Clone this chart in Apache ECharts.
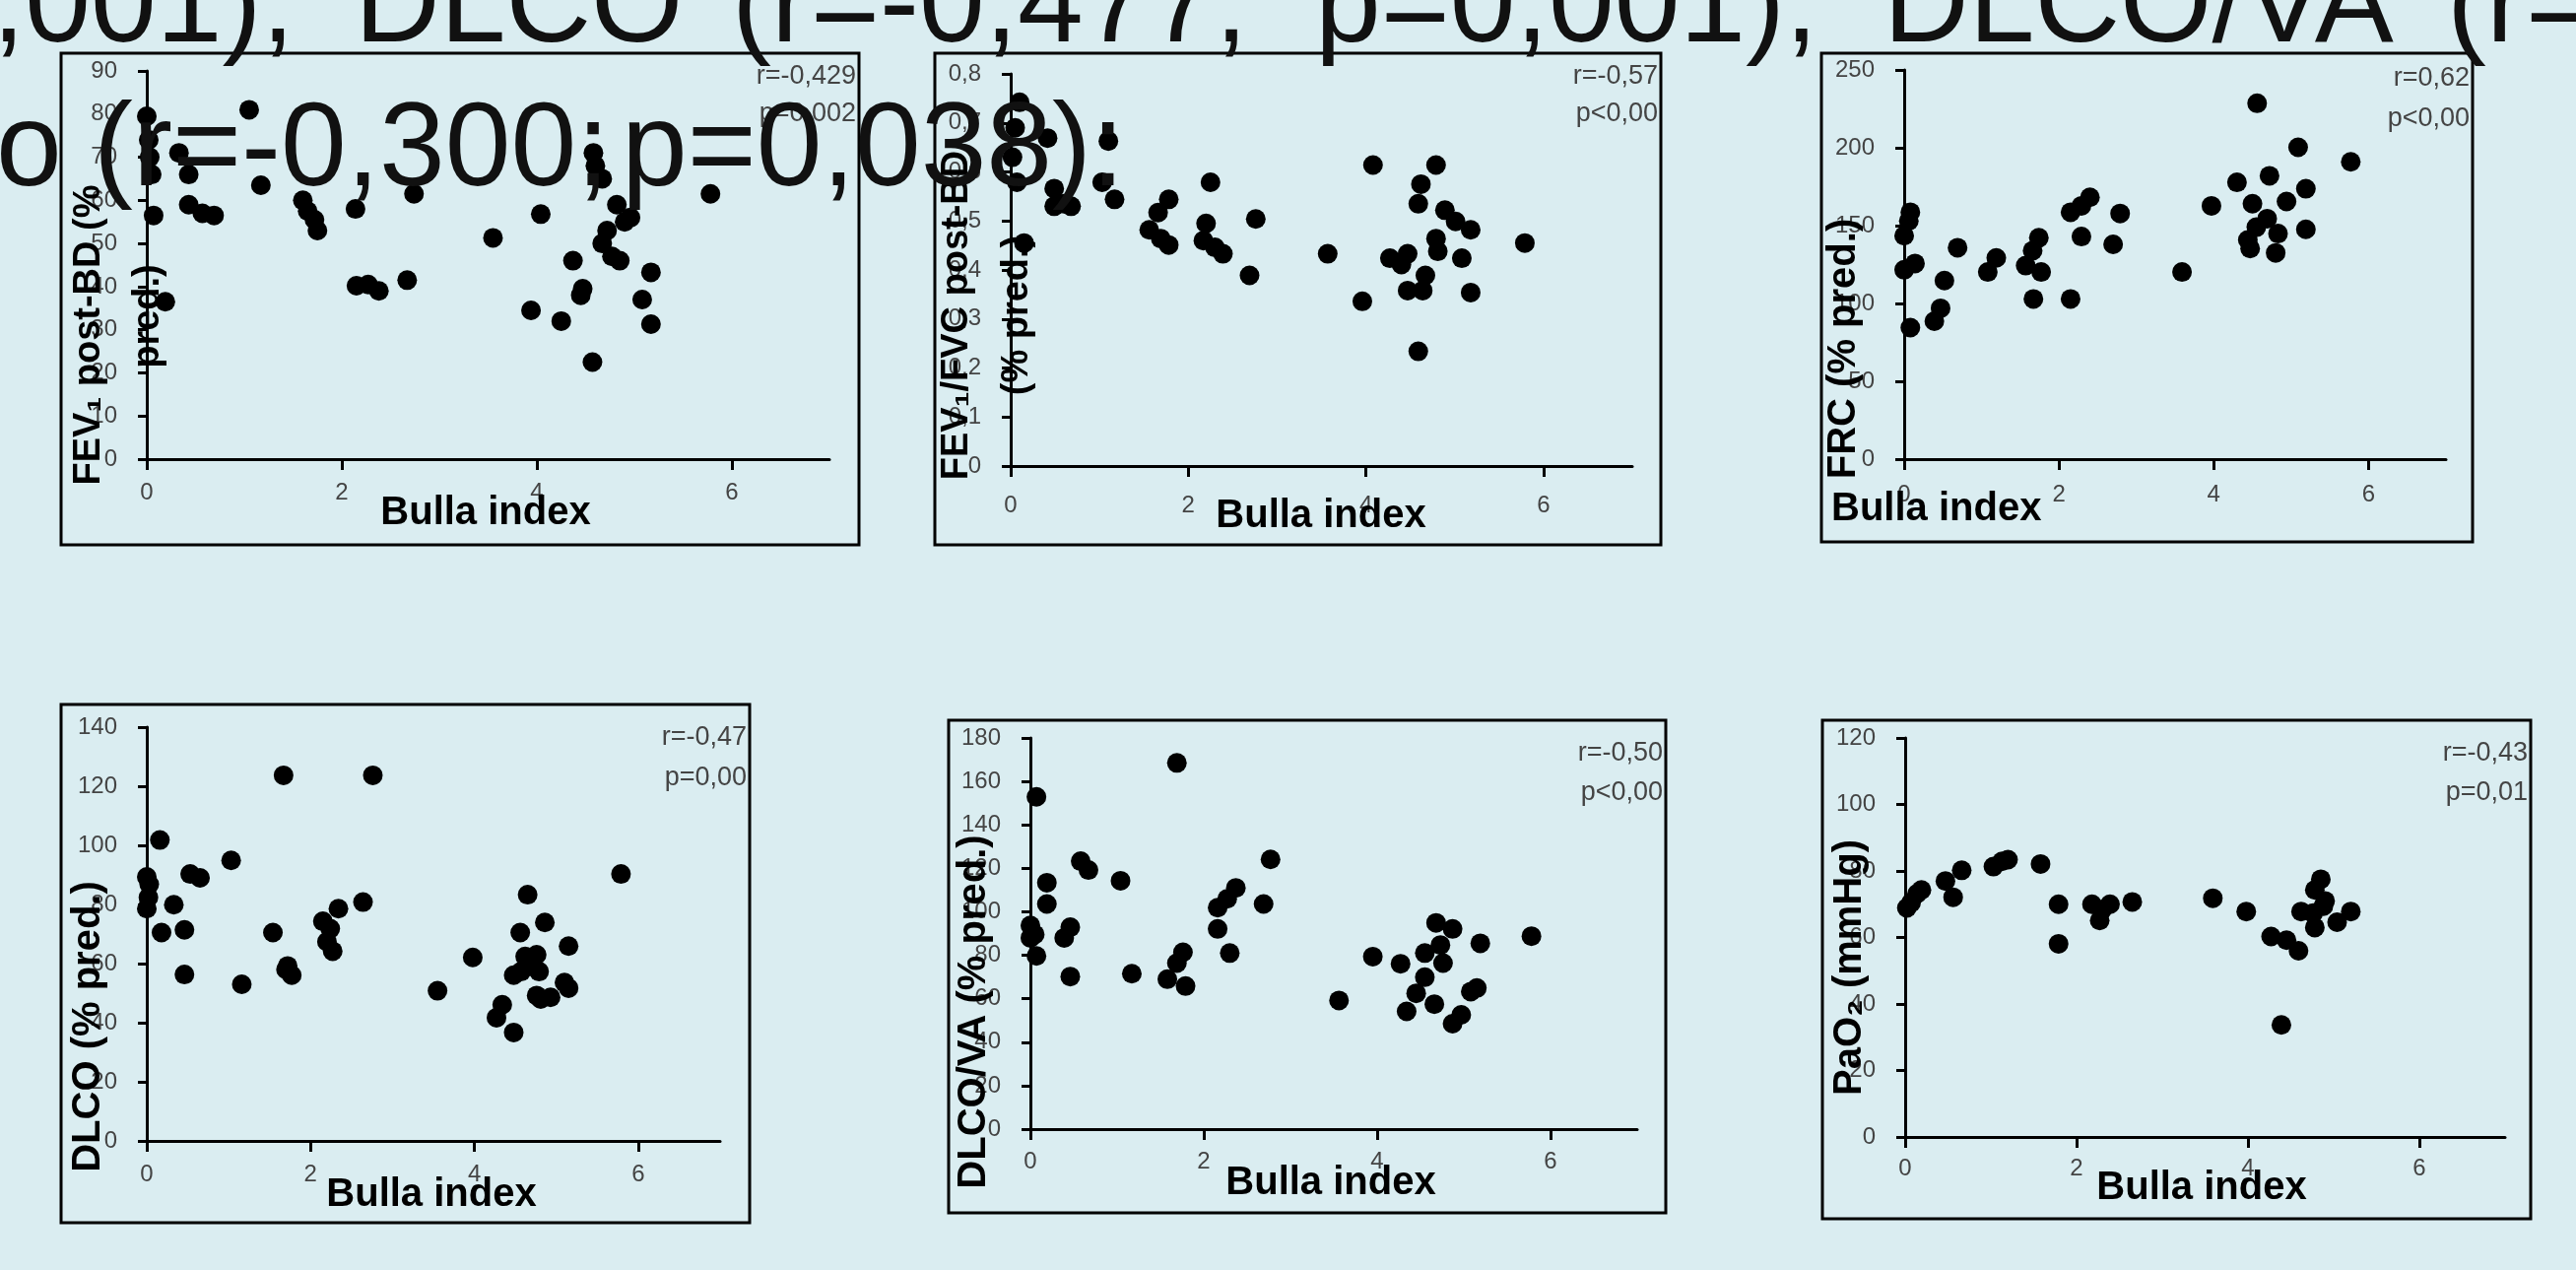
<!DOCTYPE html>
<html>
<head>
<meta charset="utf-8">
<script src="https://cdn.jsdelivr.net/npm/echarts@6/dist/echarts.min.js"></script>
<style>
html,body{margin:0;padding:0;background:#daedf1;overflow:hidden;}
#c{width:2615px;height:1289px;}
</style>
</head>
<body>
<div id="c"></div>
<script>
// ---------- data ----------
const bullaTicks = [0, 2, 4, 6];

// [Bulla index, value]
const fev1PostBD = [[0.0,79.5],[1.05,81],[0.02,74],[0.03,70],[0.05,66],[0.33,71],[0.43,66],[0.07,56.5],[0.43,59],[0.57,57],[0.69,56.5],[0.19,36.5],[1.17,63.5],[1.6,60],[1.65,57.5],[1.72,55.5],[1.75,53],[2.14,58],[2.74,61.5],[2.15,40.2],[2.27,40.5],[2.38,39],[2.67,41.5],[3.55,51.3],[4.04,56.8],[3.94,34.5],[4.25,32],[4.37,46],[4.47,39.5],[4.45,38],[4.57,22.5],[4.58,71],[4.6,68],[4.67,65],[4.82,59],[4.9,55],[4.96,56],[4.72,53],[4.67,50],[4.77,47],[4.85,46],[5.17,43.3],[5.08,37],[5.17,31.3],[5.78,61.5]];

const fev1FvcPostBD = [[0.1,0.742],[0.05,0.69],[0.02,0.63],[0.415,0.669],[1.1,0.663],[0.07,0.579],[0.49,0.566],[0.49,0.53],[0.6,0.535],[0.68,0.53],[1.03,0.579],[1.17,0.544],[0.15,0.455],[1.78,0.544],[1.66,0.517],[1.56,0.482],[1.69,0.464],[1.78,0.451],[2.25,0.579],[2.2,0.495],[2.17,0.46],[2.3,0.446],[2.39,0.433],[2.76,0.504],[2.69,0.389],[3.57,0.433],[4.08,0.614],[3.96,0.336],[4.27,0.424],[4.4,0.411],[4.47,0.433],[4.79,0.614],[4.62,0.575],[4.59,0.535],[4.89,0.522],[5.01,0.499],[5.18,0.482],[4.79,0.464],[4.81,0.438],[5.08,0.424],[4.67,0.389],[4.47,0.358],[4.64,0.358],[5.18,0.354],[4.59,0.234],[5.79,0.455]];

const frcPred = [[0.08,158.6],[0.06,153],[0,143.5],[0.14,125.7],[0,121.6],[0.08,84.5],[0.69,135.8],[0.52,114.7],[0.47,96.9],[0.39,88.6],[1.19,129.3],[1.08,120.2],[1.74,142.2],[1.66,133.9],[1.57,124.3],[1.77,120.2],[1.67,102.9],[2.15,102.9],[2.4,168.2],[2.29,162.7],[2.15,158.6],[2.29,143],[2.79,157.8],[2.7,138],[3.59,120.2],[3.97,162.7],[4.56,228.6],[5.09,200.3],[5.77,191],[4.3,177.8],[4.72,182],[5.19,173.7],[4.5,164.1],[4.94,165.5],[4.69,154.5],[4.55,149],[4.83,144.9],[5.19,147.6],[4.47,135.3],[4.8,132.5],[4.44,140.8]];

const dlcoPred = [[1.67,123.7],[2.76,123.7],[0.16,101.8],[1.03,94.9],[0.53,90.3],[0.65,89],[0,89.3],[0.03,86.8],[0.02,82.4],[0,78.6],[0.33,79.9],[0.18,70.5],[0.46,71.4],[0.46,56.3],[1.16,53],[1.54,70.5],[1.7,58],[1.77,56.1],[1.72,59.2],[2.15,74.3],[2.24,71.8],[2.2,67.4],[2.27,64.2],[2.34,78.6],[2.64,80.8],[3.55,50.8],[3.98,62.1],[4.34,46.1],[4.27,41.7],[4.48,36.7],[4.65,83.3],[4.86,73.9],[4.56,70.5],[5.15,65.9],[4.62,62.4],[4.76,63],[4.69,59.2],[4.79,57.3],[4.48,56.1],[4.57,57.3],[5.1,53.6],[5.15,51.7],[4.81,48],[4.93,48.6],[4.76,49.2],[5.79,90.3]];

const dlcoVaPred = [[1.69,168.5],[0.07,152.9],[0.58,123.3],[0.67,119.2],[1.04,114.3],[0.19,113.4],[0.19,103.6],[0,93.7],[0.05,89.6],[0,88],[0.07,79.7],[0.46,92.9],[0.39,88],[0.46,70.2],[1.17,71.5],[1.76,81.4],[1.69,76.4],[1.58,69],[1.79,65.8],[2.16,101.9],[2.27,106],[2.37,111],[2.16,92.1],[2.3,81],[2.69,103.6],[2.77,124.1],[3.56,59.2],[3.95,79.4],[4.27,76.1],[4.68,94.9],[4.87,92.1],[4.55,81],[4.73,84.7],[4.76,76.4],[4.55,69.9],[4.45,62.5],[4.34,54.2],[4.66,57.5],[5.19,85.5],[5.15,64.9],[5.08,63.3],[4.97,52.6],[4.87,48.5],[5.78,88.8]];

const pao2 = [[0.02,68.9],[0.07,70.5],[0.14,73.2],[0.19,74.3],[0.47,77],[0.56,72.1],[0.66,80.2],[1.03,81.3],[1.13,82.9],[1.2,83.4],[1.58,82.1],[1.79,70],[1.79,58.1],[2.18,70],[2.27,65.1],[2.39,70],[2.3,68.4],[2.65,70.7],[3.59,71.8],[3.98,67.8],[4.27,60.3],[4.45,59.2],[4.59,56],[4.39,33.7],[4.85,77.5],[4.78,74.3],[4.62,67.8],[4.76,67.3],[4.88,69.4],[4.78,63],[4.9,71],[5.04,64.6],[5.2,67.8]];

// axis ranges
const yMax = [90, 0.8, 250, 140, 180, 120];
const yStep = [10, 0.1, 50, 20, 20, 20];

// texts
const xTitle = 'Bulla index';
const yTitles = [
  ['FEV\u2081 post-BD (%', 'pred.)'],
  ['FEV\u2081/FVC post-BD', '(% pred.)'],
  ['FRC (% pred.)'],
  ['DLCO (% pred.)'],
  ['DLCO/VA (% pred.)'],
  ['PaO\u2082 (mmHg)']
];
const statsR = ['r=-0,429', 'r=-0,57', 'r=0,62', 'r=-0,47', 'r=-0,50', 'r=-0,43'];
const statsP = ['p=0,002', 'p<0,00', 'p<0,00', 'p=0,00', 'p<0,00', 'p=0,01'];
const bodyLine1 = [',001),', 'DLCO', '(r=-0,477;', 'p=0,001),', 'DLCO/VA', '(r='];
const bodyLine2 = ['o', '(r=-0,300;', 'p=0,038):'];

// ---------- layout ----------
const FONT = '"Liberation Sans", Arial, Helvetica, sans-serif';
const grids = [
  {left:149, top:72, width:693, height:394},
  {left:1026, top:75, width:631, height:398},
  {left:1933, top:71, width:550, height:395},
  {left:149, top:738, width:582, height:420},
  {left:1046, top:749, width:616, height:397},
  {left:1934, top:749, width:609, height:405}
];
const boxes = [
  [62,54,872,553],[949,54,1686,553],[1849,54,2510,550],
  [62,715,761,1241],[963,731,1691,1231],[1850,731,2569,1237]
];
const xLabelMargin = [22, 28, 24, 22, 21, 20];
const xTitlePos = [[493,521,'center'],[1341,524,'center'],[1859,517,'left'],[438,1213,'center'],[1351,1201,'center'],[2235,1206,'center']];
const yTitlePos = [
  [[91,340],[151,321]],
  [[972,320],[1033,320]],
  [[1872,354]],
  [[90,1042]],
  [[989,1027]],
  [[1878,982]]
];
const yTitleSize = [38, 38, 40, 40, 40, 40];
const statY = [[78,116],[78,116],[80,121],[749,790],[765,805],[765,805]];
const line1X = [-8, 360, 743, 1335, 1912, 2484];
const line2X = [-4, 95, 631];

const seriesData = [fev1PostBD, fev1FvcPostBD, frcPred, dlcoPred, dlcoVaPred, pao2];

function fmtComma(v) { return v === 0 ? '0' : String(+v.toFixed(2)).replace('.', ','); }

const xAxes = [], yAxes = [], series = [];
for (let i = 0; i < 6; i++) {
  xAxes.push({
    type:'value', gridIndex:i, min:0, max:7, interval:2,
    axisLine:{show:true, onZero:false, lineStyle:{color:'#000', width:3}},
    axisTick:{show:true, length:11, lineStyle:{color:'#000', width:3}, customValues:bullaTicks},
    axisLabel:{show:true, color:'#444', fontSize:24, fontFamily:FONT, margin:xLabelMargin[i], customValues:bullaTicks},
    splitLine:{show:false}
  });
  yAxes.push({
    type:'value', gridIndex:i, min:0, max:yMax[i], interval:yStep[i],
    axisLine:{show:true, onZero:false, lineStyle:{color:'#000', width:3}},
    axisTick:{show:true, length:9, lineStyle:{color:'#000', width:3}},
    axisLabel:{show:true, color:'#444', fontSize:24, fontFamily:FONT, margin:30,
      formatter: i === 1 ? fmtComma : undefined},
    splitLine:{show:false}
  });
  series.push({
    type:'scatter', xAxisIndex:i, yAxisIndex:i, data:seriesData[i],
    symbol:'circle', symbolSize:20, itemStyle:{color:'#000', opacity:1},
    emphasis:{disabled:true}, silent:true, z:3
  });
}

const graphic = [];
boxes.forEach(b => graphic.push({
  type:'rect', silent:true, z:5,
  shape:{x:b[0], y:b[1], width:b[2]-b[0], height:b[3]-b[1]},
  style:{fill:'rgba(0,0,0,0)', stroke:'#000', lineWidth:3}
}));
function txt(text, x, y, opts) {
  opts = opts || {};
  const align = opts.align || 'center', va = opts.va || 'middle';
  return {
    type:'text', silent:true, z: opts.z || 20, x, y, rotation: opts.rotation || 0,
    style:{
      text, fill: opts.color || '#000',
      fontSize: opts.size || 24, fontWeight: opts.weight || 'normal', fontFamily: FONT,
      textAlign: align, textVerticalAlign: va, align: align, verticalAlign: va
    }
  };
}
for (let i = 0; i < 6; i++) {
  const xp = xTitlePos[i];
  graphic.push(txt(xTitle, xp[0], xp[1], {align:xp[2], size:40, weight:'bold'}));
  yTitles[i].forEach((t, k) => {
    const p = yTitlePos[i][k];
    graphic.push(txt(t, p[0], p[1], {size:yTitleSize[i], weight:'bold', rotation:Math.PI/2}));
  });
  const right = boxes[i][2] - 3;
  graphic.push(txt(statsR[i], right, statY[i][0], {align:'right', size:27, color:'#444'}));
  graphic.push(txt(statsP[i], right, statY[i][1], {align:'right', size:27, color:'#444'}));
}
// overlaid slide body text
const BODY = 120;
bodyLine1.forEach((t, k) => graphic.push(txt(t, line1X[k], 51 - 0.35*BODY, {align:'left', size:BODY, color:'#111', z:50})));
bodyLine2.forEach((t, k) => graphic.push(txt(t, line2X[k], 197 - 0.35*BODY, {align:'left', size:BODY, color:'#111', z:50})));

const chart = echarts.init(document.getElementById('c'), null, {renderer:'canvas'});
chart.setOption({
  animation:false,
  backgroundColor:'#daedf1',
  grid: grids.map(g => Object.assign({containLabel:false, outerBoundsMode:'none'}, g)),
  xAxis: xAxes,
  yAxis: yAxes,
  series,
  graphic
});
</script>
</body>
</html>
